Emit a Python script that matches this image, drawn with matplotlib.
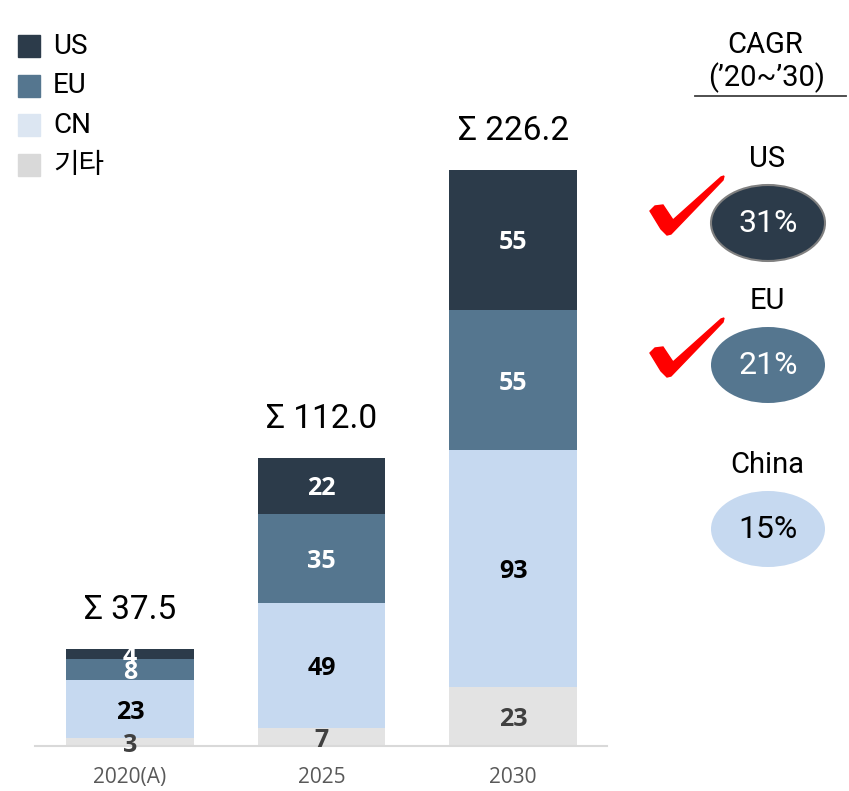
import matplotlib.pyplot as plt
from matplotlib.patches import Ellipse, Rectangle, Polygon

plt.rcParams['font.family'] = ['Roboto', 'Noto Sans CJK KR', 'DejaVu Sans']

# --- data ---
years = ['2020(A)', '2025', '2030']
segments = ['기타', 'CN', 'EU', 'US']          # bottom -> top
other = [3, 7, 23]
cn = [23, 49, 93]
eu = [8, 35, 55]
us = [4, 22, 55]
totals = [37.5, 112.0, 226.2]

cagr_regions = ['US', 'EU', 'China']
cagr_vals = [31, 21, 15]
cagr_checked = [True, True, False]

# --- styles ---
seg_colors = {'US': '#2C3B4A', 'EU': '#55768F', 'CN': '#C6D9F0', '기타': '#E3E3E3'}
legend_colors = {'US': '#2C3B4A', 'EU': '#55768F', 'CN': '#DCE6F2', '기타': '#D9D9D9'}
label_colors = {'US': 'white', 'EU': 'white', 'CN': 'black', '기타': '#404040'}

W, H = 849, 791
fig = plt.figure(figsize=(W / 100, H / 100), dpi=100)

px_per_unit = 2.55
ymax = 260
base_px = 746
ax = fig.add_axes([35 / W, (H - base_px) / H, 572 / W, ymax * px_per_unit / H])

series = {'기타': other, 'CN': cn, 'EU': eu, 'US': us}
x = list(range(len(years)))
bottom = [0] * len(years)
for name in segments:
    vals = series[name]
    ax.bar(x, vals, width=0.665, bottom=bottom, color=seg_colors[name],
           edgecolor='none', zorder=2)
    for xi, b, v in zip(x, bottom, vals):
        ax.text(xi, b + v / 2, f'{v}', ha='center', va='center_baseline',
                fontsize=18, fontweight='bold', family='Open Sans',
                color=label_colors[name], zorder=3)
    bottom = [b + v for b, v in zip(bottom, vals)]

for xi, top, t in zip(x, bottom, totals):
    ax.annotate(f'Σ {t:.1f}', (xi, top), xytext=(0, 28), textcoords='offset points',
                ha='center', va='center', fontsize=24, color='black')

ax.set_xlim(-0.496, 2.49)
ax.set_ylim(0, ymax)
ax.set_xticks(x, years, family='Open Sans', fontsize=15, color='#595959')
ax.tick_params(axis='x', length=0, pad=15)
ax.set_yticks([])
for s in ['top', 'left', 'right']:
    ax.spines[s].set_visible(False)
ax.spines['bottom'].set_color('#D9D9D9')
ax.spines['bottom'].set_linewidth(1.5)
ax.patch.set_alpha(0)

# --- overlay in pixel coordinates (origin top-left) ---
ov = fig.add_axes([0, 0, 1, 1], zorder=5)
ov.set_xlim(0, W)
ov.set_ylim(H, 0)
ov.axis('off')

# legend (top to bottom: US, EU, CN, 기타)
for i, name in enumerate(['US', 'EU', 'CN', '기타']):
    cy = 46 + i * 39.7
    ov.add_patch(Rectangle((18, cy - 11), 22, 22, color=legend_colors[name]))
    ov.text(53, cy, name, ha='left', va='center', fontsize=20, color='black')

# CAGR panel
ov.text(765, 45, 'CAGR', ha='center', va='center', fontsize=21)
ov.text(767, 78, '(’20~’30)', ha='center', va='center', fontsize=21)
ov.plot([695, 846], [96, 96], color='#404040', lw=1.3)

check_shape = [(-17, -24), (-12, -29), (-4, -30), (6, -15), (54, -58), (57, -59),
               (56, -55), (4, -1), (0, 0), (-6, -6)]
ell_colors = [seg_colors['US'], seg_colors['EU'], seg_colors['CN']]
txt_colors = ['white', 'white', 'black']
ell_cy = [223, 365, 529]
for i, (reg, val, chk) in enumerate(zip(cagr_regions, cagr_vals, cagr_checked)):
    cy = ell_cy[i]
    ov.text(767, cy - 64, reg, ha='center', va='center', fontsize=21)
    ov.add_patch(Ellipse((768, cy), 114, 76, facecolor=ell_colors[i],
                         edgecolor='#808080' if i == 0 else 'none', lw=1.5))
    ov.text(768, cy, f'{val}%', ha='center', va='center', fontsize=23,
            color=txt_colors[i])
    if chk:
        ox, oy = 667, cy + 12
        ov.add_patch(Polygon([(ox + dx, oy + dy) for dx, dy in check_shape],
                             closed=True, color='#FF0000'))

fig.savefig('out.png', dpi=100)
